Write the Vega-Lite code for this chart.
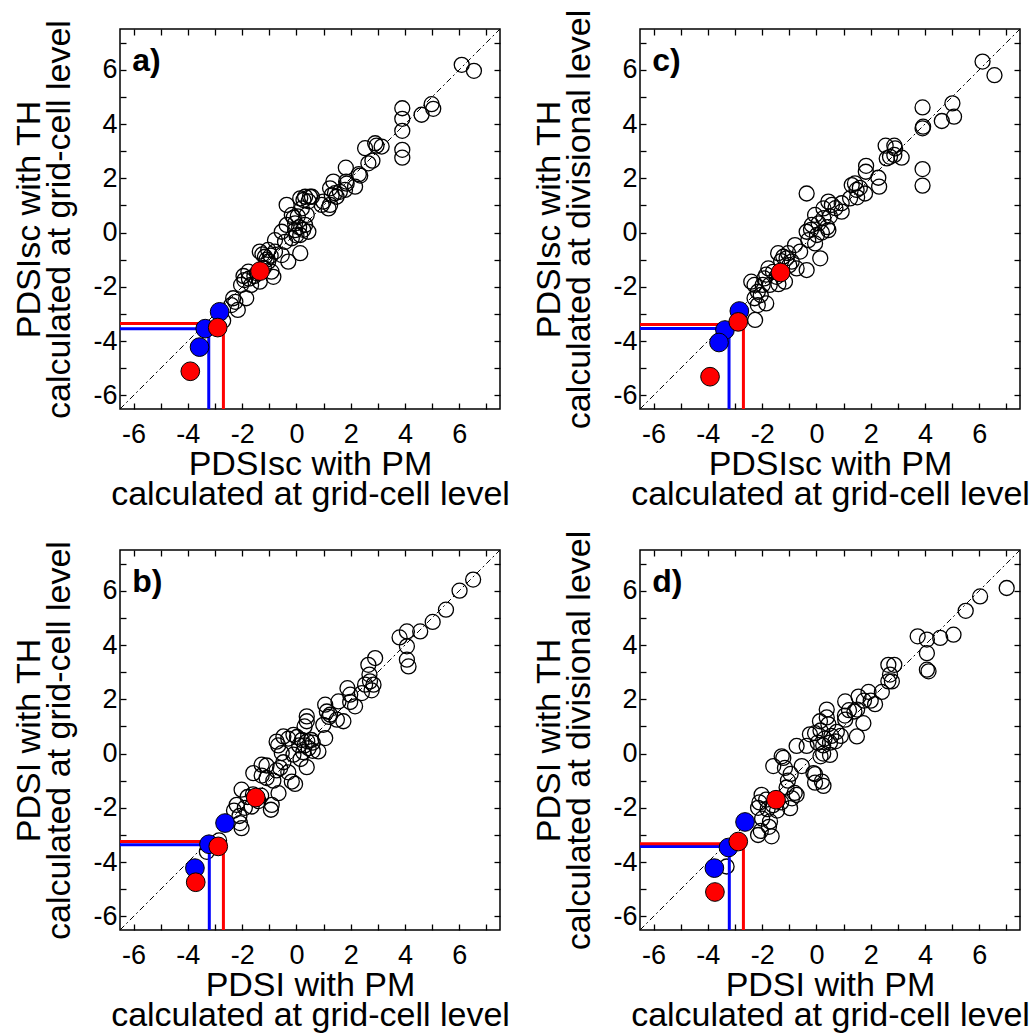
{
"$schema": "https://vega.github.io/schema/vega-lite/v6.json",
"autosize": {"type": "pad"},
"padding": {"left": 12, "top": 8, "right": 5, "bottom": 5},
"background": "white",
"datasets": {
"diag": [{"x": -6.5, "y": -6.5}, {"x": 7.5, "y": 7.5}],
"pa": [
{"x":6.09,"y":6.18,"k":"o"},{"x":6.54,"y":5.96,"k":"o"},{"x":3.9,"y":4.58,"k":"o"},{"x":3.9,"y":4.19,"k":"o"},{"x":3.9,"y":3.75,"k":"o"},{"x":3.9,"y":3.05,"k":"o"},{"x":3.9,"y":2.76,"k":"o"},{"x":4.61,"y":4.34,"k":"o"},{"x":4.98,"y":4.73,"k":"o"},{"x":5.04,"y":4.56,"k":"o"},
{"x":2.53,"y":3.11,"k":"o"},{"x":2.9,"y":3.29,"k":"o"},{"x":3.14,"y":3.17,"k":"o"},{"x":2.95,"y":3.2,"k":"o"},{"x":2.65,"y":2.55,"k":"o"},{"x":2.8,"y":2.65,"k":"o"},
{"x":2.3,"y":2.15,"k":"o"},{"x":2.35,"y":2.1,"k":"o"},
{"x":1.82,"y":2.39,"k":"o"},{"x":1.83,"y":1.88,"k":"o"},{"x":1.79,"y":1.57,"k":"o"},{"x":2.16,"y":1.69,"k":"o"},{"x":1.85,"y":1.8,"k":"o"},
{"x":1.36,"y":1.88,"k":"o"},{"x":1.24,"y":1.63,"k":"o"},{"x":1.3,"y":1.38,"k":"o"},{"x":1.18,"y":0.89,"k":"o"},{"x":1.48,"y":1.32,"k":"o"},{"x":1.42,"y":1.45,"k":"o"},{"x":1.6,"y":1.5,"k":"o"},
{"x":0.99,"y":1.14,"k":"o"},{"x":0.93,"y":1.02,"k":"o"},{"x":1.24,"y":1.02,"k":"o"},
{"x":0.5,"y":1.32,"k":"o"},{"x":0.32,"y":1.32,"k":"o"},{"x":0.57,"y":1.32,"k":"o"},{"x":0.14,"y":1.26,"k":"o"},{"x":0.26,"y":1.2,"k":"o"},{"x":0.45,"y":1.15,"k":"o"},
{"x":-0.36,"y":1.02,"k":"o"},{"x":0.2,"y":0.89,"k":"o"},{"x":0.38,"y":0.65,"k":"o"},{"x":-0.17,"y":0.65,"k":"o"},{"x":-0.1,"y":0.55,"k":"o"},{"x":0.05,"y":0.6,"k":"o"},
{"x":-0.36,"y":0.28,"k":"o"},{"x":-0.05,"y":0.34,"k":"o"},{"x":0.32,"y":0.28,"k":"o"},{"x":0.1,"y":0.2,"k":"o"},{"x":-0.05,"y":0.09,"k":"o"},{"x":0.25,"y":0.1,"k":"o"},
{"x":-0.54,"y":0.03,"k":"o"},{"x":0.14,"y":-0.09,"k":"o"},{"x":0.44,"y":0.03,"k":"o"},{"x":-0.17,"y":-0.21,"k":"o"},{"x":-0.42,"y":-0.34,"k":"o"},{"x":-0.79,"y":-0.28,"k":"o"},{"x":0.0,"y":-0.1,"k":"o"},
{"x":-1.04,"y":-0.64,"k":"o"},{"x":-1.35,"y":-0.7,"k":"o"},{"x":-0.79,"y":-0.7,"k":"o"},{"x":-1.16,"y":-0.89,"k":"o"},{"x":-1.04,"y":-1.07,"k":"o"},{"x":0.14,"y":-0.76,"k":"o"},{"x":-0.3,"y":-1.07,"k":"o"},{"x":-0.54,"y":-0.83,"k":"o"},{"x":-1.1,"y":-1.0,"k":"o"},{"x":-1.25,"y":-0.8,"k":"o"},{"x":-0.95,"y":-0.85,"k":"o"},
{"x":-1.77,"y":-1.44,"k":"o"},{"x":-1.92,"y":-1.75,"k":"o"},{"x":-1.67,"y":-1.93,"k":"o"},{"x":-2.04,"y":-1.93,"k":"o"},{"x":-1.35,"y":-1.81,"k":"o"},{"x":-0.92,"y":-1.44,"k":"o"},{"x":-0.85,"y":-1.63,"k":"o"},{"x":-1.55,"y":-1.6,"k":"o"},{"x":-1.75,"y":-1.7,"k":"o"},{"x":-1.95,"y":-1.6,"k":"o"},{"x":-1.45,"y":-1.5,"k":"o"},{"x":-1.2,"y":-1.3,"k":"o"},
{"x":-2.33,"y":-2.42,"k":"o"},{"x":-2.4,"y":-2.67,"k":"o"},{"x":-2.16,"y":-2.85,"k":"o"},{"x":-1.85,"y":-2.42,"k":"o"},{"x":-2.25,"y":-2.55,"k":"o"},{"x":-2.7,"y":-3.25,"k":"o"},
{"x":-2.83,"y":-2.92,"k":"b"},{"x":-3.36,"y":-3.54,"k":"b"},{"x":-3.57,"y":-4.22,"k":"b"},
{"x":-1.34,"y":-1.42,"k":"r"},{"x":-2.9,"y":-3.5,"k":"r"},{"x":-3.91,"y":-5.11,"k":"r"}
],
"pc": [
{"x":6.12,"y":6.3,"k":"o"},{"x":6.56,"y":5.8,"k":"o"},{"x":3.91,"y":4.61,"k":"o"},{"x":3.91,"y":3.84,"k":"o"},{"x":3.93,"y":3.9,"k":"o"},{"x":3.91,"y":2.34,"k":"o"},{"x":3.91,"y":1.73,"k":"o"},{"x":4.62,"y":4.11,"k":"o"},{"x":5.01,"y":4.76,"k":"o"},{"x":5.07,"y":4.27,"k":"o"},
{"x":2.55,"y":3.2,"k":"o"},{"x":2.87,"y":3.2,"k":"o"},{"x":2.59,"y":2.73,"k":"o"},{"x":2.87,"y":2.86,"k":"o"},{"x":3.14,"y":2.76,"k":"o"},{"x":2.71,"y":2.79,"k":"o"},{"x":2.9,"y":3.1,"k":"o"},
{"x":1.83,"y":2.46,"k":"o"},{"x":1.82,"y":2.24,"k":"o"},{"x":2.28,"y":2.02,"k":"o"},{"x":2.31,"y":1.69,"k":"o"},
{"x":1.42,"y":1.81,"k":"o"},{"x":1.48,"y":1.57,"k":"o"},{"x":1.79,"y":1.44,"k":"o"},{"x":1.24,"y":1.26,"k":"o"},{"x":1.5,"y":1.3,"k":"o"},{"x":0.93,"y":1.08,"k":"o"},{"x":1.3,"y":1.75,"k":"o"},{"x":1.6,"y":1.65,"k":"o"},
{"x":-0.36,"y":1.44,"k":"o"},
{"x":0.44,"y":1.14,"k":"o"},{"x":0.57,"y":1.02,"k":"o"},{"x":0.26,"y":0.89,"k":"o"},{"x":0.93,"y":0.77,"k":"o"},{"x":-0.05,"y":0.65,"k":"o"},{"x":0.26,"y":0.53,"k":"o"},{"x":0.5,"y":0.6,"k":"o"},{"x":0.7,"y":0.9,"k":"o"},
{"x":-0.17,"y":0.28,"k":"o"},{"x":0.08,"y":0.34,"k":"o"},{"x":0.4,"y":0.2,"k":"o"},{"x":-0.36,"y":0.03,"k":"o"},{"x":0.02,"y":-0.09,"k":"o"},{"x":0.44,"y":0.09,"k":"o"},{"x":-0.3,"y":-0.28,"k":"o"},{"x":-0.05,"y":-0.4,"k":"o"},{"x":0.14,"y":-0.95,"k":"o"},{"x":-0.36,"y":-1.38,"k":"o"},{"x":0.2,"y":0.0,"k":"o"},{"x":-0.2,"y":0.1,"k":"o"},
{"x":-0.79,"y":-0.46,"k":"o"},{"x":-1.04,"y":-0.76,"k":"o"},{"x":-1.22,"y":-0.89,"k":"o"},{"x":-1.41,"y":-0.76,"k":"o"},{"x":-0.91,"y":-1.07,"k":"o"},{"x":-0.73,"y":-1.32,"k":"o"},{"x":-1.1,"y":-0.95,"k":"o"},{"x":-1.3,"y":-1.05,"k":"o"},{"x":-1.0,"y":-1.2,"k":"o"},{"x":-0.6,"y":-0.7,"k":"o"},
{"x":-1.77,"y":-1.32,"k":"o"},{"x":-1.47,"y":-1.63,"k":"o"},{"x":-1.92,"y":-1.69,"k":"o"},{"x":-1.98,"y":-1.93,"k":"o"},{"x":-2.28,"y":-1.93,"k":"o"},{"x":-2.4,"y":-1.81,"k":"o"},{"x":-1.72,"y":-1.93,"k":"o"},{"x":-1.16,"y":-1.81,"k":"o"},{"x":-1.6,"y":-1.45,"k":"o"},{"x":-1.85,"y":-1.55,"k":"o"},{"x":-1.4,"y":-1.9,"k":"o"},
{"x":-2.16,"y":-2.18,"k":"o"},{"x":-2.28,"y":-2.42,"k":"o"},{"x":-1.85,"y":-2.61,"k":"o"},{"x":-2.16,"y":-2.67,"k":"o"},{"x":-2.26,"y":-3.22,"k":"o"},{"x":-2.05,"y":-2.3,"k":"o"},
{"x":-2.84,"y":-2.89,"k":"b"},{"x":-3.37,"y":-3.59,"k":"b"},{"x":-3.59,"y":-4.05,"k":"b"},
{"x":-1.32,"y":-1.47,"k":"r"},{"x":-2.88,"y":-3.29,"k":"r"},{"x":-3.92,"y":-5.31,"k":"r"}
],
"pb": [
{"x":6.51,"y":6.41,"k":"o"},{"x":6.01,"y":6.0,"k":"o"},{"x":5.51,"y":5.3,"k":"o"},{"x":5.02,"y":4.85,"k":"o"},{"x":4.56,"y":4.5,"k":"o"},{"x":4.07,"y":4.5,"k":"o"},{"x":3.8,"y":4.28,"k":"o"},{"x":4.07,"y":3.95,"k":"o"},{"x":4.07,"y":3.46,"k":"o"},{"x":4.13,"y":3.21,"k":"o"},
{"x":2.9,"y":3.52,"k":"o"},{"x":2.65,"y":3.27,"k":"o"},{"x":2.69,"y":2.91,"k":"o"},{"x":2.71,"y":2.66,"k":"o"},{"x":2.84,"y":2.54,"k":"o"},{"x":2.53,"y":2.54,"k":"o"},{"x":2.77,"y":2.33,"k":"o"},
{"x":1.88,"y":2.41,"k":"o"},{"x":1.98,"y":2.17,"k":"o"},{"x":2.41,"y":2.23,"k":"o"},{"x":2.16,"y":1.74,"k":"o"},{"x":1.98,"y":1.9,"k":"o"},{"x":1.55,"y":1.92,"k":"o"},
{"x":1.06,"y":1.8,"k":"o"},{"x":1.12,"y":1.55,"k":"o"},{"x":1.24,"y":1.43,"k":"o"},{"x":1.49,"y":1.25,"k":"o"},{"x":1.73,"y":1.19,"k":"o"},{"x":0.99,"y":1.06,"k":"o"},{"x":1.2,"y":1.35,"k":"o"},
{"x":0.38,"y":1.37,"k":"o"},{"x":0.38,"y":1.19,"k":"o"},{"x":0.3,"y":1.0,"k":"o"},{"x":1.06,"y":0.57,"k":"o"},{"x":0.81,"y":0.08,"k":"o"},{"x":0.6,"y":0.4,"k":"o"},
{"x":-0.11,"y":0.69,"k":"o"},{"x":-0.48,"y":0.63,"k":"o"},{"x":-0.73,"y":0.44,"k":"o"},{"x":-0.54,"y":0.02,"k":"o"},{"x":0.02,"y":0.61,"k":"o"},{"x":-0.3,"y":0.55,"k":"o"},{"x":-0.67,"y":0.3,"k":"o"},
{"x":0.2,"y":0.5,"k":"o"},{"x":0.4,"y":0.45,"k":"o"},{"x":0.55,"y":0.5,"k":"o"},{"x":0.3,"y":0.3,"k":"o"},{"x":0.1,"y":0.3,"k":"o"},{"x":0.45,"y":0.2,"k":"o"},{"x":0.6,"y":0.1,"k":"o"},{"x":0.25,"y":0.05,"k":"o"},{"x":-0.11,"y":-0.04,"k":"o"},{"x":0.15,"y":-0.2,"k":"o"},
{"x":-0.6,"y":-0.53,"k":"o"},{"x":-0.17,"y":-1.03,"k":"o"},{"x":0.38,"y":-0.5,"k":"o"},{"x":-0.05,"y":-1.12,"k":"o"},
{"x":-1.28,"y":-0.41,"k":"o"},{"x":-1.1,"y":-0.44,"k":"o"},{"x":-1.59,"y":-0.72,"k":"o"},{"x":-1.28,"y":-0.81,"k":"o"},{"x":-0.73,"y":-0.62,"k":"o"},{"x":-0.3,"y":-0.69,"k":"o"},{"x":-0.48,"y":-0.32,"k":"o"},{"x":-1.1,"y":-0.9,"k":"o"},{"x":-0.85,"y":-1.0,"k":"o"},
{"x":-0.66,"y":-1.46,"k":"o"},{"x":-0.91,"y":-1.89,"k":"o"},{"x":-0.94,"y":-2.07,"k":"o"},
{"x":-2.02,"y":-1.33,"k":"o"},{"x":-2.2,"y":-1.89,"k":"o"},{"x":-1.8,"y":-1.6,"k":"o"},{"x":-1.6,"y":-1.5,"k":"o"},{"x":-1.4,"y":-1.75,"k":"o"},{"x":-1.9,"y":-2.0,"k":"o"},{"x":-1.65,"y":-1.95,"k":"o"},{"x":-1.3,"y":-1.55,"k":"o"},
{"x":-2.08,"y":-2.56,"k":"o"},{"x":-2.02,"y":-2.75,"k":"o"},{"x":-2.3,"y":-2.1,"k":"o"},{"x":-2.1,"y":-2.3,"k":"o"},{"x":-3.3,"y":-3.62,"k":"o"},{"x":-2.85,"y":-3.2,"k":"o"},
{"x":-2.63,"y":-2.56,"k":"b"},{"x":-3.22,"y":-3.34,"k":"b"},{"x":-3.74,"y":-4.22,"k":"b"},
{"x":-1.5,"y":-1.62,"k":"r"},{"x":-2.88,"y":-3.42,"k":"r"},{"x":-3.71,"y":-4.74,"k":"r"}
],
"pd": [
{"x":7.01,"y":6.1,"k":"o"},{"x":6.03,"y":5.79,"k":"o"},{"x":5.5,"y":5.26,"k":"o"},{"x":5.05,"y":4.38,"k":"o"},{"x":4.56,"y":4.26,"k":"o"},{"x":3.73,"y":4.32,"k":"o"},{"x":4.07,"y":4.2,"k":"o"},{"x":4.07,"y":3.7,"k":"o"},{"x":4.07,"y":3.09,"k":"o"},{"x":4.13,"y":3.03,"k":"o"},
{"x":2.65,"y":3.27,"k":"o"},{"x":2.87,"y":3.27,"k":"o"},{"x":2.71,"y":2.91,"k":"o"},{"x":2.65,"y":2.66,"k":"o"},{"x":2.78,"y":2.66,"k":"o"},
{"x":2.41,"y":2.27,"k":"o"},{"x":1.92,"y":2.27,"k":"o"},{"x":2.16,"y":1.82,"k":"o"},{"x":2.0,"y":1.95,"k":"o"},{"x":1.75,"y":1.95,"k":"o"},{"x":1.55,"y":2.1,"k":"o"},
{"x":1.06,"y":1.92,"k":"o"},{"x":1.2,"y":1.6,"k":"o"},{"x":1.4,"y":1.55,"k":"o"},{"x":1.5,"y":1.62,"k":"o"},{"x":1.73,"y":1.12,"k":"o"},{"x":1.06,"y":1.25,"k":"o"},{"x":1.49,"y":0.63,"k":"o"},{"x":1.05,"y":1.4,"k":"o"},
{"x":0.38,"y":1.62,"k":"o"},{"x":0.13,"y":1.19,"k":"o"},{"x":0.38,"y":1.33,"k":"o"},{"x":0.44,"y":1.08,"k":"o"},
{"x":-0.24,"y":0.71,"k":"o"},{"x":-0.05,"y":0.75,"k":"o"},{"x":0.15,"y":0.85,"k":"o"},{"x":0.3,"y":0.55,"k":"o"},{"x":0.55,"y":0.65,"k":"o"},{"x":0.75,"y":0.8,"k":"o"},{"x":0.9,"y":0.65,"k":"o"},{"x":0.05,"y":0.4,"k":"o"},{"x":0.25,"y":0.3,"k":"o"},{"x":0.5,"y":0.4,"k":"o"},{"x":0.7,"y":0.45,"k":"o"},{"x":0.25,"y":0.0,"k":"o"},{"x":0.5,"y":-0.05,"k":"o"},{"x":0.15,"y":-0.1,"k":"o"},
{"x":-0.36,"y":0.28,"k":"o"},{"x":-0.73,"y":0.28,"k":"o"},
{"x":-1.28,"y":-0.1,"k":"o"},{"x":-1.59,"y":-0.46,"k":"o"},{"x":-1.22,"y":-0.16,"k":"o"},{"x":-1.16,"y":-0.53,"k":"o"},{"x":-0.54,"y":-0.46,"k":"o"},{"x":-0.05,"y":-0.76,"k":"o"},{"x":-0.05,"y":-1.07,"k":"o"},{"x":0.26,"y":-1.19,"k":"o"},{"x":-0.11,"y":-0.72,"k":"o"},{"x":0.2,"y":-1.03,"k":"o"},
{"x":-0.95,"y":-0.75,"k":"o"},{"x":-1.05,"y":-1.0,"k":"o"},{"x":-1.1,"y":-1.25,"k":"o"},{"x":-0.8,"y":-1.45,"k":"o"},{"x":-0.9,"y":-1.65,"k":"o"},
{"x":-0.73,"y":-1.52,"k":"o"},{"x":-2.02,"y":-1.52,"k":"o"},{"x":-2.1,"y":-1.8,"k":"o"},{"x":-1.85,"y":-1.7,"k":"o"},{"x":-2.15,"y":-2.0,"k":"o"},{"x":-2.0,"y":-2.4,"k":"o"},{"x":-1.6,"y":-1.9,"k":"o"},{"x":-1.3,"y":-1.8,"k":"o"},{"x":-1.45,"y":-2.1,"k":"o"},{"x":-1.8,"y":-2.05,"k":"o"},
{"x":-1.71,"y":-2.5,"k":"o"},{"x":-1.65,"y":-3.05,"k":"o"},{"x":-0.97,"y":-2.01,"k":"o"},{"x":-2.05,"y":-2.85,"k":"o"},{"x":-1.75,"y":-2.7,"k":"o"},{"x":-2.15,"y":-3.0,"k":"o"},
{"x":-3.31,"y":-4.16,"k":"o"},
{"x":-2.63,"y":-2.52,"k":"b"},{"x":-3.24,"y":-3.46,"k":"b"},{"x":-3.76,"y":-4.22,"k":"b"},
{"x":-1.49,"y":-1.7,"k":"r"},{"x":-2.88,"y":-3.24,"k":"r"},{"x":-3.74,"y":-5.1,"k":"r"}
],
"la": [{"x":-6.5,"y":-3.54,"s":"b","o":1},{"x":-3.23,"y":-3.54,"s":"b","o":2},{"x":-3.23,"y":-6.5,"s":"b","o":3},{"x":-6.5,"y":-3.35,"s":"r","o":1},{"x":-2.69,"y":-3.35,"s":"r","o":2},{"x":-2.69,"y":-6.5,"s":"r","o":3}],
"lc": [{"x":-6.5,"y":-3.53,"s":"b","o":1},{"x":-3.22,"y":-3.53,"s":"b","o":2},{"x":-3.22,"y":-6.5,"s":"b","o":3},{"x":-6.5,"y":-3.39,"s":"r","o":1},{"x":-2.69,"y":-3.39,"s":"r","o":2},{"x":-2.69,"y":-6.5,"s":"r","o":3}],
"lb": [{"x":-6.5,"y":-3.36,"s":"b","o":1},{"x":-3.21,"y":-3.36,"s":"b","o":2},{"x":-3.21,"y":-6.5,"s":"b","o":3},{"x":-6.5,"y":-3.24,"s":"r","o":1},{"x":-2.69,"y":-3.24,"s":"r","o":2},{"x":-2.69,"y":-6.5,"s":"r","o":3}],
"ld": [{"x":-6.5,"y":-3.42,"s":"b","o":1},{"x":-3.21,"y":-3.42,"s":"b","o":2},{"x":-3.21,"y":-6.5,"s":"b","o":3},{"x":-6.5,"y":-3.32,"s":"r","o":1},{"x":-2.69,"y":-3.32,"s":"r","o":2},{"x":-2.69,"y":-6.5,"s":"r","o":3}]
},
"columns": 2,
"spacing": {"row": 141, "column": 140},
"bounds": "flush",
"concat": [
{"width": 380, "height": 380, "resolve": {"axis": {"x": "independent", "y": "independent"}},
 "layer": [
  {"data": {"name": "diag"}, "mark": {"type": "line", "color": "black", "strokeWidth": 1, "strokeDash": [6, 3, 2, 3]},
   "encoding": {"x": {"field": "x", "type": "quantitative", "scale": {"domain": [-6.5, 7.5], "nice": false, "zero": false}, "axis": {"orient": "bottom", "values": [-6,-5,-4,-3,-2,-1,0,1,2,3,4,5,6,7], "labelExpr": "datum.value % 2 == 0 ? toString(datum.value) : ''", "title": ["PDSIsc with PM", "calculated at grid-cell level"]}},
                "y": {"field": "y", "type": "quantitative", "scale": {"domain": [-6.5, 7.5], "nice": false, "zero": false}, "axis": {"orient": "left", "values": [-6,-5,-4,-3,-2,-1,0,1,2,3,4,5,6,7], "labelExpr": "datum.value % 2 == 0 ? toString(datum.value) : ''", "title": ["PDSIsc with TH", "calculated at grid-cell level"]}}}},
  {"data": {"name": "pa"}, "transform": [{"filter": "datum.k == 'o'"}], "mark": {"type": "point", "shape": "circle", "filled": false, "stroke": "black", "strokeWidth": 1.3, "size": 225, "opacity": 1},
   "encoding": {"x": {"field": "x", "type": "quantitative", "axis": {"orient": "top", "values": [-6,-5,-4,-3,-2,-1,0,1,2,3,4,5,6,7], "labels": false, "title": null}},
                "y": {"field": "y", "type": "quantitative", "axis": {"orient": "right", "values": [-6,-5,-4,-3,-2,-1,0,1,2,3,4,5,6,7], "labels": false, "title": null}}}},
  {"data": {"name": "la"}, "mark": {"type": "line", "strokeWidth": 3},
   "encoding": {"x": {"field": "x", "type": "quantitative", "axis": null}, "y": {"field": "y", "type": "quantitative", "axis": null}, "order": {"field": "o"},
                "color": {"field": "s", "type": "nominal", "scale": {"domain": ["b", "r"], "range": ["#0000ff", "#ff0000"]}, "legend": null}}},
  {"data": {"name": "pa"}, "transform": [{"filter": "datum.k != 'o'"}], "mark": {"type": "point", "shape": "circle", "filled": true, "stroke": "black", "strokeWidth": 1, "size": 350, "opacity": 1},
   "encoding": {"x": {"field": "x", "type": "quantitative", "axis": null}, "y": {"field": "y", "type": "quantitative", "axis": null},
                "fill": {"field": "k", "type": "nominal", "scale": {"domain": ["b", "r"], "range": ["#0000ff", "#ff0000"]}, "legend": null}}},
  {"data": {"values": [{"x": -6.05, "y": 5.95, "t": "a)"}]}, "mark": {"type": "text", "font": "Liberation Sans", "fontWeight": "bold", "fontSize": 32, "align": "left", "baseline": "alphabetic", "color": "black"},
   "encoding": {"x": {"field": "x", "type": "quantitative", "axis": null}, "y": {"field": "y", "type": "quantitative", "axis": null}, "text": {"field": "t"}}}
 ]},
{"width": 380, "height": 380, "resolve": {"axis": {"x": "independent", "y": "independent"}},
 "layer": [
  {"data": {"name": "diag"}, "mark": {"type": "line", "color": "black", "strokeWidth": 1, "strokeDash": [6, 3, 2, 3]},
   "encoding": {"x": {"field": "x", "type": "quantitative", "scale": {"domain": [-6.5, 7.5], "nice": false, "zero": false}, "axis": {"orient": "bottom", "values": [-6,-5,-4,-3,-2,-1,0,1,2,3,4,5,6,7], "labelExpr": "datum.value % 2 == 0 ? toString(datum.value) : ''", "title": ["PDSIsc with PM", "calculated at grid-cell level"]}},
                "y": {"field": "y", "type": "quantitative", "scale": {"domain": [-6.5, 7.5], "nice": false, "zero": false}, "axis": {"orient": "left", "values": [-6,-5,-4,-3,-2,-1,0,1,2,3,4,5,6,7], "labelExpr": "datum.value % 2 == 0 ? toString(datum.value) : ''", "title": ["PDSIsc with TH", "calculated at divisional level"]}}}},
  {"data": {"name": "pc"}, "transform": [{"filter": "datum.k == 'o'"}], "mark": {"type": "point", "shape": "circle", "filled": false, "stroke": "black", "strokeWidth": 1.3, "size": 225, "opacity": 1},
   "encoding": {"x": {"field": "x", "type": "quantitative", "axis": {"orient": "top", "values": [-6,-5,-4,-3,-2,-1,0,1,2,3,4,5,6,7], "labels": false, "title": null}},
                "y": {"field": "y", "type": "quantitative", "axis": {"orient": "right", "values": [-6,-5,-4,-3,-2,-1,0,1,2,3,4,5,6,7], "labels": false, "title": null}}}},
  {"data": {"name": "lc"}, "mark": {"type": "line", "strokeWidth": 3},
   "encoding": {"x": {"field": "x", "type": "quantitative", "axis": null}, "y": {"field": "y", "type": "quantitative", "axis": null}, "order": {"field": "o"},
                "color": {"field": "s", "type": "nominal", "scale": {"domain": ["b", "r"], "range": ["#0000ff", "#ff0000"]}, "legend": null}}},
  {"data": {"name": "pc"}, "transform": [{"filter": "datum.k != 'o'"}], "mark": {"type": "point", "shape": "circle", "filled": true, "stroke": "black", "strokeWidth": 1, "size": 350, "opacity": 1},
   "encoding": {"x": {"field": "x", "type": "quantitative", "axis": null}, "y": {"field": "y", "type": "quantitative", "axis": null},
                "fill": {"field": "k", "type": "nominal", "scale": {"domain": ["b", "r"], "range": ["#0000ff", "#ff0000"]}, "legend": null}}},
  {"data": {"values": [{"x": -6.05, "y": 5.95, "t": "c)"}]}, "mark": {"type": "text", "font": "Liberation Sans", "fontWeight": "bold", "fontSize": 32, "align": "left", "baseline": "alphabetic", "color": "black"},
   "encoding": {"x": {"field": "x", "type": "quantitative", "axis": null}, "y": {"field": "y", "type": "quantitative", "axis": null}, "text": {"field": "t"}}}
 ]},
{"width": 380, "height": 380, "resolve": {"axis": {"x": "independent", "y": "independent"}},
 "layer": [
  {"data": {"name": "diag"}, "mark": {"type": "line", "color": "black", "strokeWidth": 1, "strokeDash": [6, 3, 2, 3]},
   "encoding": {"x": {"field": "x", "type": "quantitative", "scale": {"domain": [-6.5, 7.5], "nice": false, "zero": false}, "axis": {"orient": "bottom", "values": [-6,-5,-4,-3,-2,-1,0,1,2,3,4,5,6,7], "labelExpr": "datum.value % 2 == 0 ? toString(datum.value) : ''", "title": ["PDSI with PM", "calculated at grid-cell level"]}},
                "y": {"field": "y", "type": "quantitative", "scale": {"domain": [-6.5, 7.5], "nice": false, "zero": false}, "axis": {"orient": "left", "values": [-6,-5,-4,-3,-2,-1,0,1,2,3,4,5,6,7], "labelExpr": "datum.value % 2 == 0 ? toString(datum.value) : ''", "title": ["PDSI with TH", "calculated at grid-cell level"]}}}},
  {"data": {"name": "pb"}, "transform": [{"filter": "datum.k == 'o'"}], "mark": {"type": "point", "shape": "circle", "filled": false, "stroke": "black", "strokeWidth": 1.3, "size": 225, "opacity": 1},
   "encoding": {"x": {"field": "x", "type": "quantitative", "axis": {"orient": "top", "values": [-6,-5,-4,-3,-2,-1,0,1,2,3,4,5,6,7], "labels": false, "title": null}},
                "y": {"field": "y", "type": "quantitative", "axis": {"orient": "right", "values": [-6,-5,-4,-3,-2,-1,0,1,2,3,4,5,6,7], "labels": false, "title": null}}}},
  {"data": {"name": "lb"}, "mark": {"type": "line", "strokeWidth": 3},
   "encoding": {"x": {"field": "x", "type": "quantitative", "axis": null}, "y": {"field": "y", "type": "quantitative", "axis": null}, "order": {"field": "o"},
                "color": {"field": "s", "type": "nominal", "scale": {"domain": ["b", "r"], "range": ["#0000ff", "#ff0000"]}, "legend": null}}},
  {"data": {"name": "pb"}, "transform": [{"filter": "datum.k != 'o'"}], "mark": {"type": "point", "shape": "circle", "filled": true, "stroke": "black", "strokeWidth": 1, "size": 350, "opacity": 1},
   "encoding": {"x": {"field": "x", "type": "quantitative", "axis": null}, "y": {"field": "y", "type": "quantitative", "axis": null},
                "fill": {"field": "k", "type": "nominal", "scale": {"domain": ["b", "r"], "range": ["#0000ff", "#ff0000"]}, "legend": null}}},
  {"data": {"values": [{"x": -6.05, "y": 5.95, "t": "b)"}]}, "mark": {"type": "text", "font": "Liberation Sans", "fontWeight": "bold", "fontSize": 32, "align": "left", "baseline": "alphabetic", "color": "black"},
   "encoding": {"x": {"field": "x", "type": "quantitative", "axis": null}, "y": {"field": "y", "type": "quantitative", "axis": null}, "text": {"field": "t"}}}
 ]},
{"width": 380, "height": 380, "resolve": {"axis": {"x": "independent", "y": "independent"}},
 "layer": [
  {"data": {"name": "diag"}, "mark": {"type": "line", "color": "black", "strokeWidth": 1, "strokeDash": [6, 3, 2, 3]},
   "encoding": {"x": {"field": "x", "type": "quantitative", "scale": {"domain": [-6.5, 7.5], "nice": false, "zero": false}, "axis": {"orient": "bottom", "values": [-6,-5,-4,-3,-2,-1,0,1,2,3,4,5,6,7], "labelExpr": "datum.value % 2 == 0 ? toString(datum.value) : ''", "title": ["PDSI with PM", "calculated at grid-cell level"]}},
                "y": {"field": "y", "type": "quantitative", "scale": {"domain": [-6.5, 7.5], "nice": false, "zero": false}, "axis": {"orient": "left", "values": [-6,-5,-4,-3,-2,-1,0,1,2,3,4,5,6,7], "labelExpr": "datum.value % 2 == 0 ? toString(datum.value) : ''", "title": ["PDSI with TH", "calculated at divisional level"]}}}},
  {"data": {"name": "pd"}, "transform": [{"filter": "datum.k == 'o'"}], "mark": {"type": "point", "shape": "circle", "filled": false, "stroke": "black", "strokeWidth": 1.3, "size": 225, "opacity": 1},
   "encoding": {"x": {"field": "x", "type": "quantitative", "axis": {"orient": "top", "values": [-6,-5,-4,-3,-2,-1,0,1,2,3,4,5,6,7], "labels": false, "title": null}},
                "y": {"field": "y", "type": "quantitative", "axis": {"orient": "right", "values": [-6,-5,-4,-3,-2,-1,0,1,2,3,4,5,6,7], "labels": false, "title": null}}}},
  {"data": {"name": "ld"}, "mark": {"type": "line", "strokeWidth": 3},
   "encoding": {"x": {"field": "x", "type": "quantitative", "axis": null}, "y": {"field": "y", "type": "quantitative", "axis": null}, "order": {"field": "o"},
                "color": {"field": "s", "type": "nominal", "scale": {"domain": ["b", "r"], "range": ["#0000ff", "#ff0000"]}, "legend": null}}},
  {"data": {"name": "pd"}, "transform": [{"filter": "datum.k != 'o'"}], "mark": {"type": "point", "shape": "circle", "filled": true, "stroke": "black", "strokeWidth": 1, "size": 350, "opacity": 1},
   "encoding": {"x": {"field": "x", "type": "quantitative", "axis": null}, "y": {"field": "y", "type": "quantitative", "axis": null},
                "fill": {"field": "k", "type": "nominal", "scale": {"domain": ["b", "r"], "range": ["#0000ff", "#ff0000"]}, "legend": null}}},
  {"data": {"values": [{"x": -6.05, "y": 5.95, "t": "d)"}]}, "mark": {"type": "text", "font": "Liberation Sans", "fontWeight": "bold", "fontSize": 32, "align": "left", "baseline": "alphabetic", "color": "black"},
   "encoding": {"x": {"field": "x", "type": "quantitative", "axis": null}, "y": {"field": "y", "type": "quantitative", "axis": null}, "text": {"field": "t"}}}
 ]}
],
"config": {
 "view": {"stroke": "black", "strokeWidth": 1.5},
 "axis": {"domain": false, "grid": false, "ticks": true, "tickSize": -6, "tickColor": "black", "tickWidth": 1.3,
          "labelFont": "Liberation Sans", "labelFontSize": 27, "labelColor": "black", "labelOverlap": false, "labelFlush": false,
          "titleFont": "Liberation Sans", "titleFontSize": 34, "titleFontWeight": "normal", "titleColor": "black", "titleLineHeight": 30},
 "axisBottom": {"labelPadding": 18, "titlePadding": 0},
 "axisLeft": {"labelPadding": 9, "titlePadding": 16}
}
}
